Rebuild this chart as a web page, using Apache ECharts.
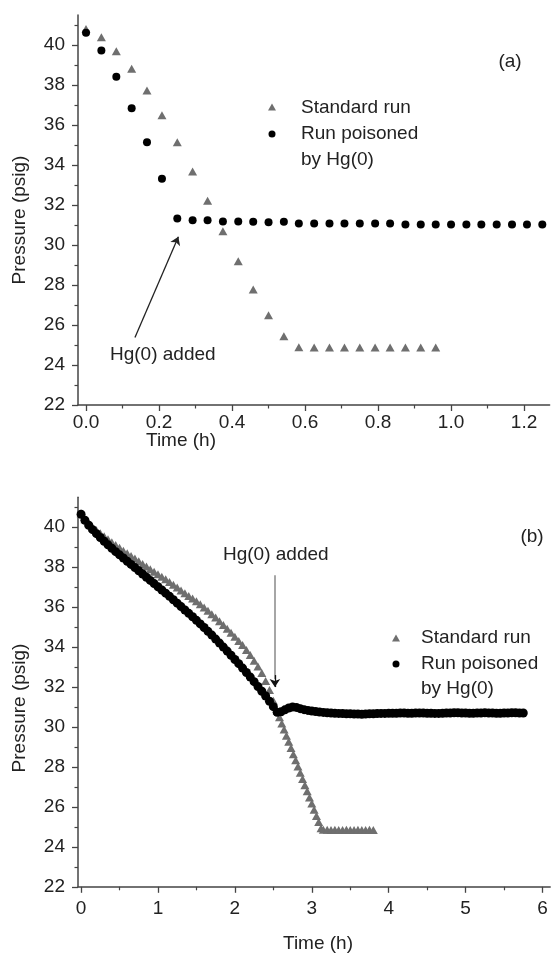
<!DOCTYPE html>
<html>
<head>
<meta charset="utf-8">
<script src="https://cdn.jsdelivr.net/npm/echarts@6/dist/echarts.min.js"></script>
<style>
html,body{margin:0;padding:0;background:#fff;}
#chart{width:551px;height:954px;}
</style>
</head>
<body>
<div id="chart"></div>
<script>
// ---------- Panel (a) data ----------
var aStdTime = [0, 0.042, 0.083, 0.125, 0.167, 0.208, 0.25, 0.292, 0.333, 0.375, 0.417, 0.458, 0.5, 0.542, 0.583, 0.625, 0.667, 0.708, 0.75, 0.792, 0.833, 0.875, 0.917, 0.958];
var aStdP = [40.8, 40.39, 39.69, 38.81, 37.73, 36.49, 35.14, 33.68, 32.21, 30.69, 29.19, 27.78, 26.49, 25.44, 24.89, 24.88, 24.88, 24.88, 24.88, 24.88, 24.88, 24.88, 24.88, 24.88];
var aPoisTime = [0, 0.042, 0.083, 0.125, 0.167, 0.208, 0.25, 0.292, 0.333, 0.375, 0.417, 0.458, 0.5, 0.542, 0.583, 0.625, 0.667, 0.708, 0.75, 0.792, 0.833, 0.875, 0.917, 0.958, 1.0, 1.042, 1.083, 1.125, 1.167, 1.208, 1.25];
var aPoisP = [40.61, 39.72, 38.41, 36.84, 35.14, 33.31, 31.33, 31.24, 31.24, 31.18, 31.18, 31.16, 31.14, 31.16, 31.08, 31.08, 31.08, 31.08, 31.08, 31.08, 31.08, 31.03, 31.03, 31.03, 31.03, 31.03, 31.03, 31.03, 31.03, 31.03, 31.03];

// ---------- Panel (b) data ----------
var bStdTime = [0,0.05,0.1,0.15,0.2,0.25,0.3,0.35,0.4,0.45,0.5,0.55,0.6,0.65,0.7,0.75,0.8,0.85,0.9,0.95,1,1.05,1.1,1.15,1.2,1.25,1.3,1.35,1.4,1.45,1.5,1.55,1.6,1.65,1.7,1.75,1.8,1.85,1.9,1.95,2,2.05,2.1,2.15,2.2,2.25,2.3,2.35,2.4,2.45,2.5,2.55,
  2.58,2.61,2.64,2.67,2.7,2.73,2.76,2.79,2.82,2.85,2.88,2.91,2.94,2.97,3,3.03,3.06,3.09,3.12,
  3.15,3.2,3.25,3.3,3.35,3.4,3.45,3.5,3.55,3.6,3.65,3.7,3.75,3.8];
var bStdP = [40.70,40.40,40.20,40.00,39.85,39.70,39.55,39.40,39.25,39.11,
  38.97,38.83,38.70,38.56,38.43,38.30,38.16,38.03,37.90,37.77,
  37.65,37.52,37.40,37.26,37.12,36.98,36.83,36.70,36.56,36.43,
  36.29,36.14,35.98,35.82,35.65,35.48,35.30,35.11,34.92,34.72,
  34.52,34.31,34.10,33.86,33.60,33.32,33.03,32.70,32.30,31.85,
  31.32,30.80,
  30.49,30.18,29.87,29.56,29.26,28.95,28.64,28.33,28.02,27.71,27.40,27.09,26.78,26.47,26.17,25.86,25.55,25.24,24.93,
  24.86,24.85,24.84,24.85,24.84,24.84,24.85,24.84,24.84,24.85,24.84,24.84,24.85,24.84];
var bPoisTime = [0,0.05,0.1,0.15,0.2,0.25,0.3,0.35,0.4,0.45,0.5,0.55,0.6,0.65,0.7,0.75,0.8,0.85,0.9,0.95,
  1,1.05,1.1,1.15,1.2,1.25,1.3,1.35,1.4,1.45,1.5,1.55,1.6,1.65,1.7,1.75,1.8,1.85,1.9,1.95,
  2,2.05,2.1,2.15,2.2,2.25,2.3,2.35,2.4,2.45,2.5,2.55,2.6,2.65,2.7,2.75,2.8,2.85,2.9,2.95,
  3,3.05,3.1,3.15,3.2,3.25,3.3,3.35,3.4,3.45,3.5,3.55,3.6,3.65,3.7,3.75,3.8,3.85,3.9,3.95,
  4,4.05,4.1,4.15,4.2,4.25,4.3,4.35,4.4,4.45,4.5,4.55,4.6,4.65,4.7,4.75,4.8,4.85,4.9,4.95,
  5,5.05,5.1,5.15,5.2,5.25,5.3,5.35,5.4,5.45,5.5,5.55,5.6,5.65,5.7,5.75];
var bPoisP = [40.65,40.35,40.10,39.88,39.68,39.49,39.30,39.12,38.95,38.78,38.62,38.46,38.30,38.14,37.98,37.82,37.66,37.50,37.34,37.18,
  37.02,36.86,36.70,36.54,36.37,36.20,36.03,35.86,35.69,35.52,35.34,35.16,34.98,34.79,34.60,34.40,34.20,34.00,33.80,33.59,
  33.38,33.17,32.95,32.73,32.50,32.27,32.03,31.79,31.55,31.29,31.02,30.74,30.76,30.86,30.95,31.00,30.98,30.92,30.87,30.83,
  30.80,30.77,30.75,30.73,30.71,30.70,30.69,30.68,30.67,30.66,30.66,30.65,30.65,30.64,30.65,30.66,30.66,30.67,30.68,30.68,
  30.69,30.69,30.69,30.70,30.70,30.69,30.69,30.70,30.70,30.70,30.69,30.69,30.68,30.68,30.69,30.70,30.70,30.71,30.71,30.70,
  30.70,30.69,30.69,30.70,30.70,30.71,30.70,30.70,30.69,30.69,30.70,30.70,30.71,30.71,30.70,30.70];

// ---------- tick labels ----------
var aXTicks = [0, 0.2, 0.4, 0.6, 0.8, 1.0, 1.2];
var aXMinor = [0.1, 0.3, 0.5, 0.7, 0.9, 1.1];
var bXTicks = [0, 1, 2, 3, 4, 5, 6];
var bXMinor = [0.5, 1.5, 2.5, 3.5, 4.5, 5.5];
var yTicks = [22, 24, 26, 28, 30, 32, 34, 36, 38, 40];
var yMinor = [23, 25, 27, 29, 31, 33, 35, 37, 39, 41];

var seriesNames = ['Standard run', 'Run poisoned by Hg(0)'];

function zip(t, p) { return t.map(function (v, i) { return [v, p[i]]; }); }

var FONT = 'Liberation Sans, Arial, Helvetica, sans-serif';
var FS = 19;
var TXT = '#222';
var AX = '#444';
var GRAY = '#6f6f6f';

function majorX(grid, min, max, ticks, fmt, margin) {
  return {
    type: 'value', gridIndex: grid, position: 'bottom', min: min, max: max,
    axisLine: { show: true, onZero: false, lineStyle: { color: AX, width: 1.5 } },
    axisTick: { show: true, length: 6, inside: false, customValues: ticks, lineStyle: { color: AX, width: 1.3 } },
    axisLabel: { show: true, customValues: ticks, formatter: fmt, margin: margin, color: TXT, fontSize: FS, fontFamily: FONT },
    splitLine: { show: false }
  };
}
function minorX(grid, min, max, ticks) {
  return {
    type: 'value', gridIndex: grid, position: 'bottom', min: min, max: max,
    axisLine: { show: false, onZero: false },
    axisTick: { show: true, length: 3.5, customValues: ticks, lineStyle: { color: AX, width: 1.2 } },
    axisLabel: { show: false },
    splitLine: { show: false }
  };
}
function majorY(grid) {
  return {
    type: 'value', gridIndex: grid, position: 'left', min: 22, max: 41.5,
    axisLine: { show: true, onZero: false, lineStyle: { color: AX, width: 1.5 } },
    axisTick: { show: true, length: 6, customValues: yTicks, lineStyle: { color: AX, width: 1.3 } },
    axisLabel: { show: true, customValues: yTicks, margin: 13, color: TXT, fontSize: FS, fontFamily: FONT },
    splitLine: { show: false }
  };
}
function minorY(grid) {
  return {
    type: 'value', gridIndex: grid, position: 'left', min: 22, max: 41.5,
    axisLine: { show: false, onZero: false },
    axisTick: { show: true, length: 3.5, customValues: yMinor, lineStyle: { color: AX, width: 1.2 } },
    axisLabel: { show: false },
    splitLine: { show: false }
  };
}

function txt(x, y, s, opts) {
  opts = opts || {};
  return {
    type: 'text', x: x, y: y, rotation: opts.rotation || 0, silent: true,
    style: { text: s, fill: TXT, font: FS + 'px ' + FONT, textAlign: opts.align || 'left', textVerticalAlign: 'middle' }
  };
}

var chart = echarts.init(document.getElementById('chart'), null, { renderer: 'canvas' });
var option = {
  animation: false,
  backgroundColor: '#fff',
  grid: [
    { left: 78, top: 15, width: 471.6, height: 390, outerBoundsMode: 'none', containLabel: false },
    { left: 78, top: 497.3, width: 472.2, height: 389.5, outerBoundsMode: 'none', containLabel: false }
  ],
  xAxis: [
    majorX(0, -0.022, 1.27, aXTicks, function (v) { return v.toFixed(1); }, 8),
    minorX(0, -0.022, 1.27, aXMinor),
    majorX(1, -0.04, 6.1, bXTicks, function (v) { return String(Math.round(v)); }, 12),
    minorX(1, -0.04, 6.1, bXMinor)
  ],
  yAxis: [majorY(0), minorY(0), majorY(1), minorY(1)],
  series: [
    {
      name: seriesNames[0], type: 'scatter', xAxisIndex: 0, yAxisIndex: 0,
      symbol: 'triangle', symbolSize: [9, 8], itemStyle: { color: GRAY, opacity: 1 },
      data: zip(aStdTime, aStdP), z: 2
    },
    {
      name: seriesNames[1], type: 'scatter', xAxisIndex: 0, yAxisIndex: 0,
      symbol: 'circle', symbolSize: 8, itemStyle: { color: '#000', opacity: 1 },
      data: zip(aPoisTime, aPoisP), z: 3,
      markLine: {
        silent: true, symbol: ['none', 'arrow'], symbolSize: 8, animation: false,
        label: { show: false },
        lineStyle: { color: '#222', width: 1.3, type: 'solid' },
        data: [[{ coord: [0.134, 25.38] }, { coord: [0.253, 30.41] }]]
      }
    },
    {
      name: seriesNames[0], type: 'scatter', xAxisIndex: 2, yAxisIndex: 2,
      symbol: 'triangle', symbolSize: [9, 8], itemStyle: { color: GRAY, opacity: 1 },
      data: zip(bStdTime, bStdP), z: 2
    },
    {
      name: seriesNames[1], type: 'scatter', xAxisIndex: 2, yAxisIndex: 2,
      symbol: 'circle', symbolSize: 9, itemStyle: { color: '#000', opacity: 1 },
      data: zip(bPoisTime, bPoisP), z: 3,
      markLine: {
        silent: true, animation: false, label: { show: false },
        data: [
          [{ coord: [2.52, 37.6], symbol: 'none', lineStyle: { color: '#888', width: 1.5, type: 'solid' } },
           { coord: [2.52, 32.4], symbol: 'none' }],
          [{ coord: [2.52, 32.6], symbol: 'none', lineStyle: { color: '#111', width: 1.3, type: 'solid' } },
           { coord: [2.52, 32.0], symbol: 'arrow', symbolSize: 8 }]
        ]
      }
    }
  ],
  graphic: [
    // axis titles
    txt(20, 220, 'Pressure (psig)', { rotation: Math.PI / 2, align: 'center' }),
    txt(181, 441, 'Time (h)', { align: 'center' }),
    txt(20, 708, 'Pressure (psig)', { rotation: Math.PI / 2, align: 'center' }),
    txt(318, 944, 'Time (h)', { align: 'center' }),
    // panel labels
    txt(510, 62, '(a)', { align: 'center' }),
    txt(532, 537, '(b)', { align: 'center' }),
    // annotations
    txt(110, 355, 'Hg(0) added'),
    txt(223, 555, 'Hg(0) added'),
    // legend (a)
    { type: 'polygon', silent: true, shape: { points: [[272, 103.5], [276, 110.5], [268, 110.5]] }, style: { fill: GRAY } },
    { type: 'circle', silent: true, shape: { cx: 272, cy: 134, r: 3.5 }, style: { fill: '#000' } },
    txt(301, 108, 'Standard run'),
    txt(301, 134, 'Run poisoned'),
    txt(301, 160, 'by Hg(0)'),
    // legend (b)
    { type: 'polygon', silent: true, shape: { points: [[396, 634.5], [400, 641.5], [392, 641.5]] }, style: { fill: GRAY } },
    { type: 'circle', silent: true, shape: { cx: 396, cy: 664, r: 3.5 }, style: { fill: '#000' } },
    txt(421, 638, 'Standard run'),
    txt(421, 664, 'Run poisoned'),
    txt(421, 689, 'by Hg(0)')
  ]
};
chart.setOption(option);
</script>
</body>
</html>
